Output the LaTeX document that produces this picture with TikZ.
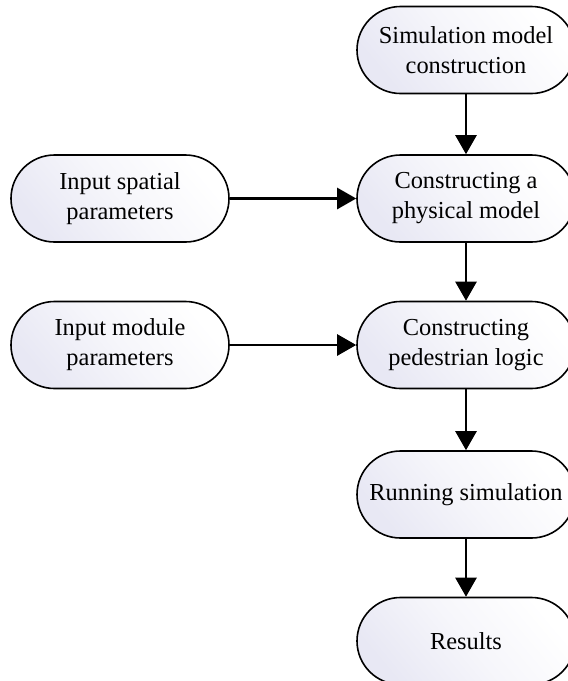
\documentclass[tikz,border=0pt]{standalone}
\usepackage{fontspec}
\setmainfont{Liberation Serif}
\usetikzlibrary{arrows.meta}
\definecolor{lav}{HTML}{E8E8F4}
\tikzset{
  term/.style={draw=black, line width=1.6pt, minimum width=218pt, minimum height=87pt,
    rounded corners=43.5pt, align=center, inner sep=0pt,
    font=\fontsize{24.4}{30}\selectfont,
    top color=white, bottom color=lav, middle color=white!60!lav, shading angle=-50},
  conn/.style={line width=2.6pt, -{Triangle[length=19pt,width=21pt]}}
}
\begin{document}
\begin{tikzpicture}[x=1pt,y=-1pt]
\useasboundingbox (0,0) rectangle (568,681);
\node[term] (sim) at (466,50) {Simulation model\\construction};
\node[term] (phys) at (466,198.5) {Constructing a\\physical model};
\node[term] (ped) at (466,345) {Constructing\\pedestrian logic};
\node[term] (run) at (466,494.5) {Running simulation};
\node[term] (res) at (466,641) {Results};
\node[term] (spat) at (120,198.5) {Input spatial\\parameters};
\node[term] (mod) at (120,345) {Input module\\parameters};
\draw[conn] (sim) -- (phys);
\draw[conn] (phys) -- (ped);
\draw[conn] (ped) -- (run);
\draw[conn] (run) -- (res);
\draw[conn] (spat) -- (phys);
\draw[conn] (mod) -- (ped);
\end{tikzpicture}
\end{document}
